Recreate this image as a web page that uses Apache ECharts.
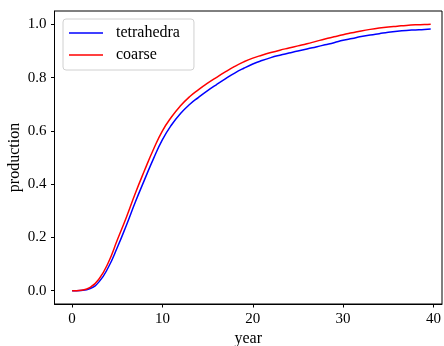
<!DOCTYPE html>
<html>
<head>
<meta charset="utf-8">
<script src="https://cdn.jsdelivr.net/npm/echarts@6/dist/echarts.min.js"></script>
<style>html,body{margin:0;padding:0;background:#fff}#c{width:444px;height:346px}</style>
</head>
<body>
<div id="c"></div>
<script>
var years = [0,1,2,3,4,5,6,7,8,9,10,11,12,13,14,15,16,17,18,19,20,21,22,23,24,25,26,27,28,29,30,31,32,33,34,35,36,37,38,39,39.7];
var tetrahedra = [0,0.001,0.008,0.034,0.087,0.162,0.245,0.333,0.415,0.495,0.567,0.622,0.665,0.699,0.726,0.751,0.774,0.796,0.817,0.835,0.851,0.864,0.875,0.884,0.892,0.900,0.907,0.915,0.923,0.931,0.940,0.947,0.954,0.960,0.965,0.970,0.974,0.977,0.979,0.981,0.982];
var coarse = [0,0.002,0.012,0.045,0.105,0.19,0.275,0.366,0.45,0.53,0.60,0.652,0.694,0.728,0.755,0.779,0.801,0.822,0.842,0.859,0.873,0.884,0.894,0.903,0.911,0.919,0.927,0.936,0.945,0.953,0.961,0.968,0.975,0.981,0.986,0.990,0.993,0.996,0.998,0.999,1.0];
var xTicks = [0,10,20,30,40];
var yTicks = [0,0.2,0.4,0.6,0.8,1.0];

function pairs(xs, ys){ return xs.map(function(x,i){return [x, ys[i]];}); }
var F = '"Liberation Serif", "DejaVu Serif", serif';
var chart = echarts.init(document.getElementById('c'));
chart.setOption({
  animation: false,
  grid: {left: 54.5, right: 2, top: 11, bottom: 42, outerBoundsMode: 'none', containLabel: false,
         show: true, borderColor: '#000', borderWidth: 1, backgroundColor: 'transparent'},
  legend: {
    left: 63, top: 19, orient: 'vertical',
    icon: 'rect',
    itemWidth: 34, itemHeight: 1.6, itemGap: 6,
    padding: [6, 14, 7, 6],
    borderColor: '#d0d0d0', borderWidth: 1, borderRadius: 3,
    backgroundColor: 'rgba(255,255,255,0.8)',
    textStyle: {fontFamily: F, fontSize: 16, color: '#000', padding: [0,0,0,8], lineHeight: 16},
    data: ['tetrahedra', 'coarse']
  },
  xAxis: {
    type: 'value', min: -1.95, max: 40.95,
    name: 'year', nameLocation: 'middle', nameGap: 27, nameMoveOverlap: false,
    nameTextStyle: {fontFamily: F, fontSize: 16, color: '#000'},
    axisLine: {show: true, onZero: false, lineStyle: {color: '#000', width: 1}},
    axisTick: {show: true, inside: false, length: 3.5, lineStyle: {color: '#000'}, customValues: xTicks},
    axisLabel: {fontFamily: F, fontSize: 15, color: '#000', margin: 8, customValues: xTicks},
    splitLine: {show: false}
  },
  yAxis: {
    type: 'value', min: -0.05, max: 1.05,
    name: 'production', nameLocation: 'middle', nameGap: 31.5, nameMoveOverlap: false,
    nameTextStyle: {fontFamily: F, fontSize: 16, color: '#000'},
    axisLine: {show: true, onZero: false, lineStyle: {color: '#000', width: 1}},
    axisTick: {show: true, inside: false, length: 3.5, lineStyle: {color: '#000'}, customValues: yTicks},
    axisLabel: {fontFamily: F, fontSize: 15, color: '#000', margin: 8, customValues: yTicks,
      formatter: function(v){ return v.toFixed(1); }},
    splitLine: {show: false}
  },
  series: [
    {name: 'tetrahedra', type: 'line', data: pairs(years, tetrahedra), symbol: 'none', smooth: 0.5,
     lineStyle: {color: '#0000ff', width: 1.5}, itemStyle: {color: '#0000ff'}},
    {name: 'coarse', type: 'line', data: pairs(years, coarse), symbol: 'none', smooth: 0.5,
     lineStyle: {color: '#ff0000', width: 1.5}, itemStyle: {color: '#ff0000'}}
  ]
});
</script>
</body>
</html>
